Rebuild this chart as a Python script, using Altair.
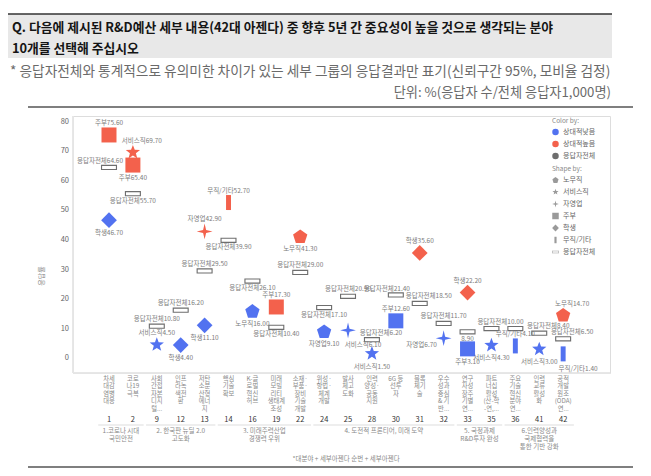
import math
import altair as alt
import pandas as pd

# ---------------- data ----------------
col_ids = ["1", "2", "9", "12", "13", "14", "16", "19", "22", "24",
           "25", "28", "30", "31", "32", "33", "35", "36", "41", "42"]
agenda = [
    "차세\n대감\n염병\n대응", "코로\n나19\n극복", "사회\n간접\n자본\n디지\n털...",
    "인프\n라녹\n색전\n환", "저탄\n소분\n산형\n에너\n지", "핵심\n기술\n확보",
    "K-글\n로벌\n혁신\n허브", "미래\n모빌\n리티\n생태계\n조성",
    "소재·\n부품·\n장비\n기술\n개발", "위성·\n항법·\n체계\n개발",
    "발사\n체고\n도화", "인력\n양성·\n공동\n지원", "6G 등\n선투\n자",
    "블록\n체기\n술", "우수\n성과\n중심\n& 기\n반...", "연구\n자성\n장주\n기별\n연...",
    "파트\n너십\n활성\n(산-학\n-연,...", "주요\n기술\n혁신\n분야\n연...",
    "인력\n교류\n활성\n화", "공적\n개발\n원조\n(ODA)\n연...",
]
group_labels = [
    "1.코로나 시대\n국민안전", "2. 한국판 뉴딜 2.0\n고도화", "3. 미래주력산업\n경쟁력 우위",
    "4. 도전적 프론티어, 미래 도약", "5. 국정과제\nR&D투자 완성", "6.인력양성과\n국제협력을\n통한 기반 강화",
]
group_members = [
    ["1", "2"], ["9", "12", "13"], ["14", "16", "19", "22"],
    ["24", "25", "28", "30", "31", "32"], ["33", "35"], ["36", "41", "42"],
]

tone_domain = ["상대적낮음", "상대적높음", "응답자전체"]
shape_domain = ["노무직", "서비스직", "자영업", "주부", "학생", "무직/기타", "응답자전체"]
y_ticks = [0, 10, 20, 30, 40, 50, 60, 70, 80]
y_title = "응답률"

pt_col = ["1", "1", "1", "2", "2", "2", "9", "9", "12", "12", "13", "13", "13",
          "14", "14", "16", "16", "19", "19", "22", "22", "24", "24", "25", "25",
          "28", "28", "30", "30", "31", "31", "32", "32", "33", "33", "33",
          "35", "35", "36", "36", "41", "41", "42", "42", "42"]
pt_shape = ["주부", "응답자전체", "학생", "서비스직", "주부", "응답자전체",
            "응답자전체", "서비스직", "응답자전체", "학생", "응답자전체", "자영업", "학생",
            "응답자전체", "무직/기타", "응답자전체", "노무직", "주부", "응답자전체",
            "응답자전체", "노무직", "응답자전체", "노무직", "응답자전체", "자영업",
            "응답자전체", "서비스직", "응답자전체", "주부", "학생", "응답자전체",
            "응답자전체", "자영업", "학생", "응답자전체", "주부",
            "응답자전체", "서비스직", "응답자전체", "무직/기타", "응답자전체", "서비스직",
            "노무직", "응답자전체", "무직/기타"]
pt_tone = ["상대적높음", "응답자전체", "상대적낮음", "상대적높음", "상대적높음", "응답자전체",
           "응답자전체", "상대적낮음", "응답자전체", "상대적낮음", "응답자전체", "상대적높음", "상대적낮음",
           "응답자전체", "상대적높음", "응답자전체", "상대적낮음", "상대적높음", "응답자전체",
           "응답자전체", "상대적높음", "응답자전체", "상대적낮음", "응답자전체", "상대적낮음",
           "응답자전체", "상대적낮음", "응답자전체", "상대적낮음", "상대적높음", "응답자전체",
           "응답자전체", "상대적낮음", "상대적높음", "응답자전체", "상대적낮음",
           "응답자전체", "상대적낮음", "응답자전체", "상대적낮음", "응답자전체", "상대적낮음",
           "상대적높음", "응답자전체", "상대적낮음"]
pt_value = [75.6, 64.6, 46.7, 69.7, 65.4, 55.7,
            10.8, 4.5, 16.2, 4.4, 29.5, 42.9, 11.1,
            39.9, 52.7, 26.1, 16.0, 17.3, 10.4,
            29.0, 41.3, 17.1, 9.1, 20.9, 9.4,
            6.2, 1.5, 21.4, 12.6, 35.6, 18.5,
            11.7, 6.7, 22.2, 8.9, 3.1,
            10.0, 4.3, 10.0, 4.1, 8.4, 3.0,
            14.7, 6.5, 1.4]
pt_label = ["주부75.60", "응답자전체64.60", "학생46.70", "서비스직69.70", "주부65.40", "응답자전체55.70",
            "응답자전체10.80", "서비스직4.50", "응답자전체16.20", "학생4.40", "응답자전체29.50",
            "자영업42.90", "학생11.10",
            "응답자전체39.90", "무직/기타52.70", "응답자전체26.10", "노무직16.00", "주부17.30",
            "응답자전체10.40",
            "응답자전체29.00", "노무직41.30", "응답자전체17.10", "자영업9.10", "응답자전체20.90",
            "서비스직6.10",
            "응답자전체6.20", "서비스직1.50", "응답자전체21.40", "주부12.60", "학생35.60",
            "응답자전체18.50",
            "응답자전체11.70", "자영업6.70", "학생22.20", "8.90", "주부3.10",
            "응답자전체10.00", "서비스직4.30", "", "무직/기타4.10", "응답자전체8.40", "서비스직3.00",
            "노무직14.70", "응답자전체6.50", "무직/기타1.40"]
pt_pos = ["t", "tl", "b", "tr", "b", "b",
          "t", "t", "t", "b", "t", "t", "b",
          "b", "t", "b", "b", "t", "b",
          "t", "b", "b", "b", "t", "br",
          "tr", "b", "tl", "t", "t", "tr",
          "t", "l", "t", "b", "b",
          "tr", "b", "t", "t", "tr", "b",
          "tr", "tr", "br"]

# ---------------- geometry helpers ----------------
W, H = 537, 257
XMIN, XMAX = -1.506, 20.96
YMIN, YMAX = -5.08, 82.03
PXX = W / (XMAX - XMIN)
PXY = H / (YMAX - YMIN)

idx_of = {c: i for i, c in enumerate(col_ids)}
pts = pd.DataFrame({"col": pt_col, "shape": pt_shape, "tone": pt_tone,
                    "value": pt_value, "label": pt_label, "pos": pt_pos})
pts["idx"] = pts["col"].map(idx_of)
# label offsets (px): dx, dy for filled markers, dy for hollow markers
OFF = {"t": (0, -12, -7), "b": (0, 13, 7), "tr": (9, -11, -7), "tl": (-9, -11, -6),
       "br": (15, 15, 7), "l": (-22, 7, 0)}
hol = pts["shape"] == "응답자전체"
pts["lx"] = [i + OFF[p][0] / PXX for i, p in zip(pts["idx"], pts["pos"])]
pts["ly"] = [v - (OFF[p][2] if h else OFF[p][1]) / PXY
             for v, p, h in zip(pts["value"], pts["pos"], hol)]
labs = pts[pts["label"] != ""]

cats = pd.DataFrame({"idx": list(range(len(col_ids))), "col": col_ids, "agenda": agenda})
grp = pd.DataFrame({
    "glabel": group_labels,
    "gx": [sum(idx_of[c] for c in m) / len(m) for m in group_members],
    "gx1": [min(idx_of[c] for c in m) - 0.45 for m in group_members],
    "gx2": [max(idx_of[c] for c in m) + 0.45 for m in group_members],
})
ticks = pd.DataFrame({"tick": y_ticks})


def star(n, r_in):
    p = []
    for k in range(2 * n):
        r = 1 if k % 2 == 0 else r_in
        a = math.radians(-90 + 180 / n * k)
        p.append(f"{r * math.cos(a):.3f},{r * math.sin(a):.3f}")
    return "M" + "L".join(p) + "Z"


def poly(n):
    p = []
    for k in range(n):
        a = math.radians(-90 + 360 / n * k)
        p.append(f"{math.cos(a):.3f},{math.sin(a) + 0.1:.3f}")
    return "M" + "L".join(p) + "Z"


shape_paths = [
    poly(5),
    star(5, 0.42),
    "M0,-1.05L0.2,-0.2L1.05,0L0.2,0.2L0,1.05L-0.2,0.2L-1.05,0L-0.2,-0.2Z",
    "M-1,-1L1,-1L1,1L-1,1Z",
    "M0,-1.05L1.05,0L0,1.05L-1.05,0Z",
    "M-0.33,-1L0.33,-1L0.33,1L-0.33,1Z",
    "M-1.07,-0.35L1.07,-0.35L1.07,0.35L-1.07,0.35Z"
    "M-0.92,-0.2L-0.92,0.2L0.92,0.2L0.92,-0.2Z",
]
BLUE, RED, GREY = "#5272f0", "#f3614c", "#6e6e6e"

xs = alt.Scale(domain=[XMIN, XMAX], nice=False, zero=False)
ys = alt.Scale(domain=[YMIN, YMAX], nice=False, zero=False)
FONT = "Noto Sans CJK KR"

points = alt.Chart(pts).mark_point(filled=True, size=225, opacity=1, strokeWidth=0).encode(
    x=alt.X("idx:Q", scale=xs, axis=None),
    y=alt.Y("value:Q", scale=ys, axis=None),
    color=alt.Color("tone:N", scale=alt.Scale(domain=tone_domain, range=[BLUE, RED, GREY]),
                    legend=alt.Legend(title="Color by:", orient="none", legendX=479, legendY=2,
                                      symbolType="circle", symbolSize=42, symbolStrokeWidth=0,
                                      titleFontSize=6.5, titleFontWeight="normal", titleColor="#888",
                                      labelFontSize=7, labelColor="#666", rowPadding=4,
                                      titlePadding=4, labelOffset=4)),
    shape=alt.Shape("shape:N", scale=alt.Scale(domain=shape_domain, range=shape_paths),
                    legend=alt.Legend(title="Shape by:", orient="none", legendX=479, legendY=50,
                                      symbolSize=42, symbolFillColor="#9a9a9a",
                                      symbolStrokeWidth=0,
                                      titleFontSize=6.5, titleFontWeight="normal", titleColor="#888",
                                      labelFontSize=7, labelColor="#666", rowPadding=4,
                                      titlePadding=4, labelOffset=4)),
)

# y axis drawn from the tick list through the y scale
y_labels = alt.Chart(ticks).mark_text(fontSize=7.5, color="#666", align="right",
                                      baseline="middle").encode(
    x=alt.value(-4), y=alt.Y("tick:Q", scale=ys, axis=None), text="tick:Q")
y_line = alt.Chart(ticks).mark_rule(color="#e6e6e6").encode(
    x=alt.value(0), y=alt.value(0), y2=alt.value(H))
x_line = alt.Chart(ticks).mark_rule(color="#e6e6e6").encode(
    x=alt.value(0), x2=alt.value(W), y=alt.value(H))
one = pd.DataFrame({"k": [0]})
y_title_t = alt.Chart(one).mark_text(text=y_title, angle=270, fontSize=7, color="#888",
                                     baseline="middle").encode(
    x=alt.value(-31), y=alt.value(160))

point_labels = alt.Chart(labs).mark_text(fontSize=6.5, color="#7c7c7c", baseline="middle").encode(
    x=alt.X("lx:Q", scale=xs, axis=None), y=alt.Y("ly:Q", scale=ys, axis=None), text="label:N")

cat_text = alt.Chart(cats).mark_text(fontSize=6.3, lineHeight=7.4, lineBreak="\n", baseline="top",
                                     color="#8a8a8a").encode(
    x=alt.X("idx:Q", scale=xs, axis=None), y=alt.value(260), text="agenda:N")
num_text = alt.Chart(cats).mark_text(fontSize=7.5, color="#333", baseline="middle").encode(
    x=alt.X("idx:Q", scale=xs, axis=None), y=alt.value(303.5), text="col:N")
grp_rule = alt.Chart(grp).mark_rule(color="#dddddd", strokeWidth=1).encode(
    x=alt.X("gx1:Q", scale=xs, axis=None), x2="gx2:Q", y=alt.value(309))
grp_text = alt.Chart(grp).mark_text(fontSize=6.5, lineHeight=8, lineBreak="\n", baseline="top",
                                    color="#8a8a8a").encode(
    x=alt.X("gx:Q", scale=xs, axis=None), y=alt.value(311.5), text="glabel:N")

title_box = alt.Chart(one).mark_rect(color="#e8e8e8").encode(
    x=alt.value(-65), x2=alt.value(539), y=alt.value(-102), y2=alt.value(-58))
title_top = alt.Chart(one).mark_rule(color="#333", strokeWidth=1.5).encode(
    x=alt.value(-65), x2=alt.value(539), y=alt.value(-102))
title1 = alt.Chart(one).mark_text(
    text="Q. 다음에 제시된 R&D예산 세부 내용(42대 아젠다) 중 향후 5년 간 중요성이 높을 것으로 생각되는 분야",
    align="left", baseline="middle", fontSize=12.8, fontWeight="bold", color="#151515").encode(
    x=alt.value(-61), y=alt.value(-88))
title2 = alt.Chart(one).mark_text(
    text="10개를 선택해 주십시오", align="left", baseline="middle", fontSize=12.8, fontWeight="bold",
    color="#151515").encode(x=alt.value(-61), y=alt.value(-67))
sub1 = alt.Chart(one).mark_text(
    text="* 응답자전체와 통계적으로 유의미한 차이가 있는 세부 그룹의 응답결과만 표기(신뢰구간 95%, 모비율 검정)",
    align="left", baseline="middle", fontSize=13.7, color="#6a6a6a").encode(
    x=alt.value(-63), y=alt.value(-44))
sub2 = alt.Chart(one).mark_text(
    text="단위: %(응답자 수/전체 응답자1,000명)", align="right", baseline="middle", fontSize=13.2,
    color="#6a6a6a").encode(x=alt.value(538), y=alt.value(-23))
frame_top = alt.Chart(one).mark_rule(color="#555", strokeWidth=1.6).encode(
    x=alt.value(-45), x2=alt.value(560), y=alt.value(-9))
frame_bot = alt.Chart(one).mark_rule(color="#555", strokeWidth=1.6).encode(
    x=alt.value(-45), x2=alt.value(560), y=alt.value(351))
footer = alt.Chart(one).mark_text(
    text="*대분야 + 세부아젠다 순번 + 세부아젠다", fontSize=6.5, color="#888", baseline="middle").encode(
    x=alt.value(273), y=alt.value(343))

chart = alt.layer(
    y_line, x_line, points, y_labels, y_title_t,
    title_box, title_top, title1, title2, sub1, sub2, frame_top, frame_bot,
    grp_rule, cat_text, num_text, grp_text, footer, point_labels,
).properties(
    width=W, height=H,
    autosize=alt.AutoSizeParams(type="none"),
    padding={"left": 65, "top": 108, "right": 33, "bottom": 95},
).configure_view(stroke=None).configure(font=FONT)

chart.save("out.html", embed_options={"renderer": "svg", "actions": False})
